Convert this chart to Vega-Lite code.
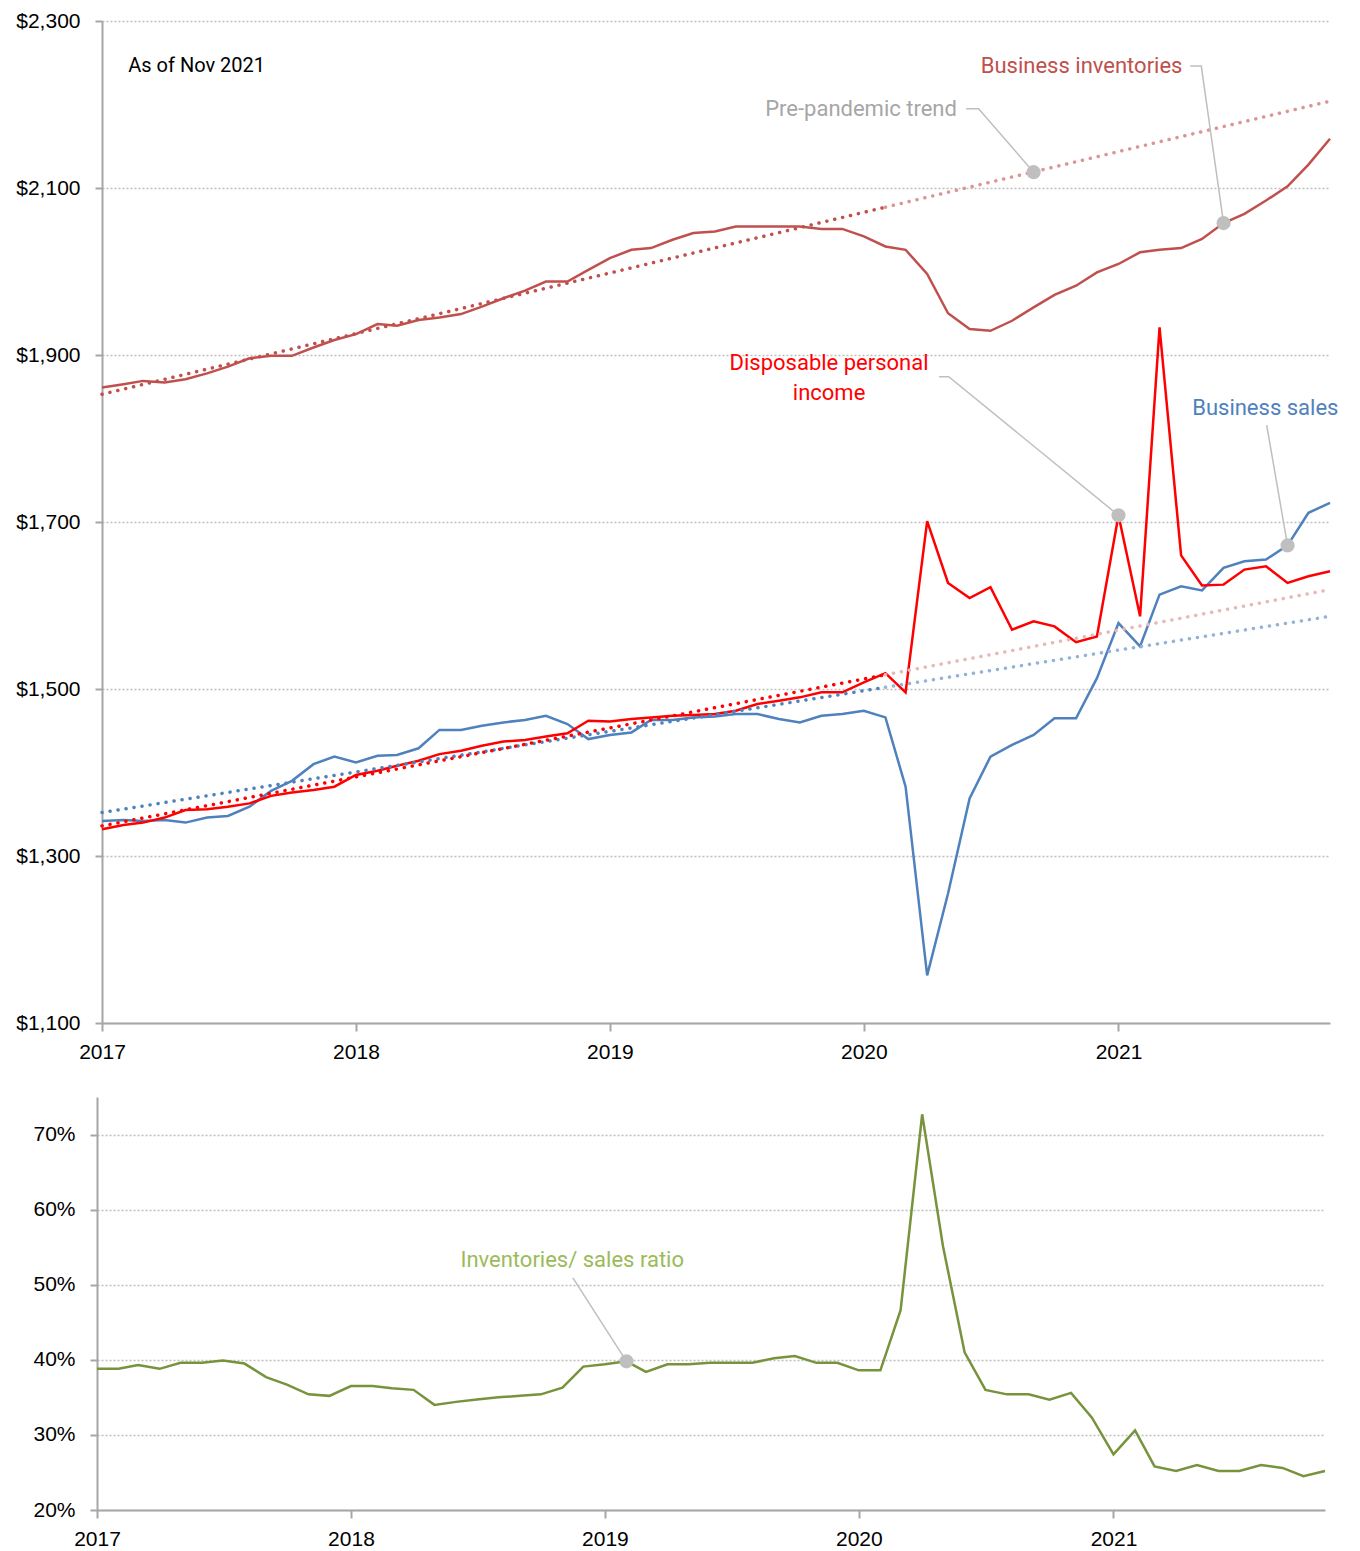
{
  "$schema": "https://vega.github.io/schema/vega-lite/v6.json",
  "background": "white",
  "padding": {"left": 14, "top": 10, "right": 18, "bottom": 5},
  "spacing": 35,
  "columns": 1,
  "align": "none",
  "config": {
    "view": {"stroke": null},
    "axis": {
      "labelFont": "Liberation Sans", "labelFontSize": 21, "labelColor": "#000000",
      "domainColor": "#A6A6A6", "domainWidth": 2, "tickColor": "#A6A6A6", "tickWidth": 2,
      "gridColor": "#BFBFBF", "gridDash": [2, 2], "gridWidth": 1.5, "title": null
    }
  },
  "datasets": {
    "main": [
      {"d":"2017-01-01","inv":1861,"sales":1342,"inc":1332,"ratio":0.388},
      {"d":"2017-02-01","inv":1865,"sales":1343,"inc":1337,"ratio":0.388},
      {"d":"2017-03-01","inv":1869,"sales":1342,"inc":1340,"ratio":0.393},
      {"d":"2017-04-01","inv":1867,"sales":1343,"inc":1346,"ratio":0.388},
      {"d":"2017-05-01","inv":1871,"sales":1340,"inc":1355,"ratio":0.396},
      {"d":"2017-06-01","inv":1878,"sales":1346,"inc":1356,"ratio":0.396},
      {"d":"2017-07-01","inv":1886,"sales":1348,"inc":1359,"ratio":0.399},
      {"d":"2017-08-01","inv":1896,"sales":1359,"inc":1363,"ratio":0.395},
      {"d":"2017-09-01","inv":1899,"sales":1378,"inc":1372,"ratio":0.377},
      {"d":"2017-10-01","inv":1899,"sales":1390,"inc":1376,"ratio":0.367},
      {"d":"2017-11-01","inv":1909,"sales":1410,"inc":1379,"ratio":0.354},
      {"d":"2017-12-01","inv":1918,"sales":1419,"inc":1383,"ratio":0.352},
      {"d":"2018-01-01","inv":1925,"sales":1412,"inc":1397,"ratio":0.365},
      {"d":"2018-02-01","inv":1937,"sales":1420,"inc":1402,"ratio":0.365},
      {"d":"2018-03-01","inv":1935,"sales":1421,"inc":1408,"ratio":0.362},
      {"d":"2018-04-01","inv":1942,"sales":1429,"inc":1414,"ratio":0.360},
      {"d":"2018-05-01","inv":1945,"sales":1451,"inc":1422,"ratio":0.340},
      {"d":"2018-06-01","inv":1949,"sales":1451,"inc":1426,"ratio":0.344},
      {"d":"2018-07-01","inv":1958,"sales":1456,"inc":1432,"ratio":0.347},
      {"d":"2018-08-01","inv":1968,"sales":1460,"inc":1437,"ratio":0.350},
      {"d":"2018-09-01","inv":1977,"sales":1463,"inc":1439,"ratio":0.352},
      {"d":"2018-10-01","inv":1988,"sales":1468,"inc":1443,"ratio":0.354},
      {"d":"2018-11-01","inv":1988,"sales":1458,"inc":1447,"ratio":0.363},
      {"d":"2018-12-01","inv":2002,"sales":1440,"inc":1462,"ratio":0.391},
      {"d":"2019-01-01","inv":2016,"sales":1445,"inc":1461,"ratio":0.394},
      {"d":"2019-02-01","inv":2026,"sales":1448,"inc":1464,"ratio":0.398},
      {"d":"2019-03-01","inv":2028,"sales":1463,"inc":1466,"ratio":0.384},
      {"d":"2019-04-01","inv":2038,"sales":1463,"inc":1468,"ratio":0.394},
      {"d":"2019-05-01","inv":2046,"sales":1466,"inc":1469,"ratio":0.394},
      {"d":"2019-06-01","inv":2048,"sales":1467,"inc":1470,"ratio":0.396},
      {"d":"2019-07-01","inv":2054,"sales":1470,"inc":1474,"ratio":0.396},
      {"d":"2019-08-01","inv":2054,"sales":1470,"inc":1482,"ratio":0.396},
      {"d":"2019-09-01","inv":2054,"sales":1464,"inc":1486,"ratio":0.402},
      {"d":"2019-10-01","inv":2054,"sales":1460,"inc":1490,"ratio":0.405},
      {"d":"2019-11-01","inv":2051,"sales":1468,"inc":1496,"ratio":0.396},
      {"d":"2019-12-01","inv":2051,"sales":1470,"inc":1496,"ratio":0.396},
      {"d":"2020-01-01","inv":2042,"sales":1474,"inc":1508,"ratio":0.386},
      {"d":"2020-02-01","inv":2030,"sales":1466,"inc":1519,"ratio":0.386},
      {"d":"2020-03-01","inv":2026,"sales":1383,"inc":1496,"ratio":0.466},
      {"d":"2020-04-01","inv":1997,"sales":1157,"inc":1701,"ratio":0.727},
      {"d":"2020-05-01","inv":1950,"sales":1255,"inc":1627,"ratio":0.551},
      {"d":"2020-06-01","inv":1931,"sales":1369,"inc":1609,"ratio":0.410},
      {"d":"2020-07-01","inv":1929,"sales":1419,"inc":1622,"ratio":0.360},
      {"d":"2020-08-01","inv":1941,"sales":1433,"inc":1571,"ratio":0.354},
      {"d":"2020-09-01","inv":1957,"sales":1445,"inc":1581,"ratio":0.354},
      {"d":"2020-10-01","inv":1972,"sales":1465,"inc":1575,"ratio":0.347},
      {"d":"2020-11-01","inv":1983,"sales":1465,"inc":1556,"ratio":0.356},
      {"d":"2020-12-01","inv":1999,"sales":1513,"inc":1563,"ratio":0.323},
      {"d":"2021-01-01","inv":2009,"sales":1579,"inc":1708,"ratio":0.274},
      {"d":"2021-02-01","inv":2023,"sales":1551,"inc":1587,"ratio":0.306},
      {"d":"2021-03-01","inv":2026,"sales":1613,"inc":1933,"ratio":0.258},
      {"d":"2021-04-01","inv":2028,"sales":1623,"inc":1660,"ratio":0.252},
      {"d":"2021-05-01","inv":2039,"sales":1618,"inc":1624,"ratio":0.260},
      {"d":"2021-06-01","inv":2058,"sales":1645,"inc":1625,"ratio":0.252},
      {"d":"2021-07-01","inv":2069,"sales":1653,"inc":1643,"ratio":0.252},
      {"d":"2021-08-01","inv":2085,"sales":1655,"inc":1647,"ratio":0.260},
      {"d":"2021-09-01","inv":2102,"sales":1672,"inc":1627,"ratio":0.256},
      {"d":"2021-10-01","inv":2128,"sales":1711,"inc":1635,"ratio":0.245},
      {"d":"2021-11-01","inv":2159,"sales":1723,"inc":1641,"ratio":0.252}
    ],
    "trend": [
      {"d":"2017-01-01","k":"inv-fit","v":1853},{"d":"2020-02-01","k":"inv-fit","v":2077},
      {"d":"2020-02-01","k":"inv-proj","v":2077},{"d":"2021-11-01","k":"inv-proj","v":2204},
      {"d":"2017-01-01","k":"sales-fit","v":1352},{"d":"2020-02-01","k":"sales-fit","v":1502},
      {"d":"2020-02-01","k":"sales-proj","v":1502},{"d":"2021-11-01","k":"sales-proj","v":1587},
      {"d":"2017-01-01","k":"inc-fit","v":1336},{"d":"2020-02-01","k":"inc-fit","v":1517},
      {"d":"2020-02-01","k":"inc-proj","v":1517},{"d":"2021-11-01","k":"inc-proj","v":1619}
    ],
    "leaders": [
      {"g":"pp","o":1,"d":"2020-05-27","v":2195},
      {"g":"pp","o":2,"d":"2020-06-14","v":2195},
      {"g":"pp","o":3,"d":"2020-09-01","v":2119},
      {"g":"bi","o":1,"d":"2021-04-14","v":2246},
      {"g":"bi","o":2,"d":"2021-04-30","v":2246},
      {"g":"bi","o":3,"d":"2021-06-01","v":2058},
      {"g":"dpi","o":1,"d":"2020-04-18","v":1874},
      {"g":"dpi","o":2,"d":"2020-05-02","v":1874},
      {"g":"dpi","o":3,"d":"2021-01-01","v":1708},
      {"g":"bs","o":1,"d":"2021-08-02","v":1816},
      {"g":"bs","o":2,"d":"2021-09-01","v":1672}
    ],
    "dots": [
      {"d":"2020-09-01","v":2119},{"d":"2021-06-01","v":2058},
      {"d":"2021-01-01","v":1708},{"d":"2021-09-01","v":1672}
    ],
    "labels": [
      {"t":"Pre-pandemic trend","d":"2019-12-28","v":2195,"k":"trend"},
      {"t":"Business inventories","d":"2020-11-09","v":2246,"k":"inv"},
      {"t":"Disposable personal","d":"2019-11-12","v":1890,"k":"inc"},
      {"t":"income","d":"2019-11-12","v":1854,"k":"inc"},
      {"t":"Business sales","d":"2021-07-31","v":1836,"k":"sales"}
    ],
    "note": [{"t":"As of Nov 2021","d":"2017-05-17","v":2246}],
    "ratioLeader": [
      {"o":1,"d":"2018-11-16","v":0.509},{"o":2,"d":"2019-02-01","v":0.398}
    ],
    "ratioDot": [{"d":"2019-02-01","v":0.398}],
    "ratioLabel": [{"t":"Inventories/ sales ratio","d":"2018-11-15","v":0.533}]
  },
  "concat": [
    {
      "width": 1228,
      "height": 1002,
      "encoding": {
        "x": {
          "field": "d", "type": "temporal",
          "scale": {"type": "utc", "domain": [{"year":2017,"month":1,"date":1,"utc":true},{"year":2021,"month":11,"date":1,"utc":true}]},
          "axis": {
            "values": [{"year":2017,"month":1,"date":1,"utc":true},{"year":2018,"month":1,"date":1,"utc":true},{"year":2019,"month":1,"date":1,"utc":true},{"year":2020,"month":1,"date":1,"utc":true},{"year":2021,"month":1,"date":1,"utc":true}],
            "format": "%Y", "grid": false, "tickSize": 8, "labelPadding": 10, "labelFlush": false
          }
        },
        "y": {
          "field": "v", "type": "quantitative",
          "scale": {"domain": [1100, 2300], "nice": false, "zero": false},
          "axis": {"values": [1100,1300,1500,1700,1900,2100,2300], "format": "$,.0f", "grid": true, "tickSize": 7, "labelPadding": 15, "minExtent": 88}
        }
      },
      "layer": [
        {
          "data": {"name": "main"},
          "transform": [{"fold": ["inv", "sales", "inc"], "as": ["k", "v"]}],
          "mark": {"type": "line", "strokeWidth": 2.5},
          "encoding": {
            "color": {"field": "k", "type": "nominal", "legend": null,
              "scale": {"domain": ["inv","sales","inc","inv-fit","inv-proj","sales-fit","sales-proj","inc-fit","inc-proj","note","trend"],
                        "range": ["#C0504D","#4F81BD","#FF0000","#C0504D","#DA9694","#4F81BD","#95B3D7","#FF0000","#E6B9B8","#000000","#A6A6A6"]}}
          }
        },
        {
          "data": {"name": "trend"},
          "mark": {"type": "line", "strokeWidth": 3.5, "strokeDash": [0.1, 8], "strokeCap": "round"},
          "encoding": {
            "color": {"field": "k", "type": "nominal", "legend": null,
              "scale": {"domain": ["inv","sales","inc","inv-fit","inv-proj","sales-fit","sales-proj","inc-fit","inc-proj","note","trend"],
                        "range": ["#C0504D","#4F81BD","#FF0000","#C0504D","#DA9694","#4F81BD","#95B3D7","#FF0000","#E6B9B8","#000000","#A6A6A6"]}}
          }
        },
        {
          "data": {"name": "leaders"},
          "mark": {"type": "line", "color": "#BFBFBF", "strokeWidth": 1.5},
          "encoding": {"detail": {"field": "g"}, "order": {"field": "o", "type": "quantitative"}}
        },
        {
          "data": {"name": "dots"},
          "mark": {"type": "circle", "size": 200, "color": "#BFBFBF", "opacity": 1},
          "encoding": {}
        },
        {
          "data": {"name": "labels"},
          "mark": {"type": "text", "font": "Roboto", "fontSize": 22, "align": "center", "baseline": "middle"},
          "encoding": {
            "text": {"field": "t"},
            "color": {"field": "k", "type": "nominal", "legend": null,
              "scale": {"domain": ["inv","sales","inc","inv-fit","inv-proj","sales-fit","sales-proj","inc-fit","inc-proj","note","trend"],
                        "range": ["#C0504D","#4F81BD","#FF0000","#C0504D","#DA9694","#4F81BD","#95B3D7","#FF0000","#E6B9B8","#000000","#A6A6A6"]}}
          }
        },
        {
          "data": {"name": "note"},
          "mark": {"type": "text", "font": "Roboto", "fontSize": 20, "align": "center", "baseline": "middle", "color": "#000000", "letterSpacing": -0.5},
          "encoding": {"text": {"field": "t"}}
        }
      ]
    },
    {
      "width": 1228,
      "height": 413,
      "encoding": {
        "x": {
          "field": "d", "type": "temporal",
          "scale": {"type": "utc", "range": [-5, 1223], "domain": [{"year":2017,"month":1,"date":1,"utc":true},{"year":2021,"month":11,"date":1,"utc":true}]},
          "axis": {
            "values": [{"year":2017,"month":1,"date":1,"utc":true},{"year":2018,"month":1,"date":1,"utc":true},{"year":2019,"month":1,"date":1,"utc":true},{"year":2020,"month":1,"date":1,"utc":true},{"year":2021,"month":1,"date":1,"utc":true}],
            "format": "%Y", "grid": false, "tickSize": 8, "labelPadding": 10, "labelFlush": false
          }
        },
        "y": {
          "field": "v", "type": "quantitative",
          "scale": {"domain": [0.2, 0.75], "nice": false, "zero": false},
          "axis": {"values": [0.2,0.3,0.4,0.5,0.6,0.7], "format": ".0%", "grid": true, "tickSize": 7, "labelPadding": 15, "minExtent": 83, "offset": 5}
        }
      },
      "layer": [
        {
          "data": {"name": "main"},
          "mark": {"type": "line", "color": "#77933C", "strokeWidth": 2.5},
          "encoding": {"y": {"field": "ratio", "type": "quantitative"}}
        },
        {
          "data": {"name": "ratioLeader"},
          "mark": {"type": "line", "color": "#BFBFBF", "strokeWidth": 1.5},
          "encoding": {"order": {"field": "o", "type": "quantitative"}}
        },
        {
          "data": {"name": "ratioDot"},
          "mark": {"type": "circle", "size": 200, "color": "#BFBFBF", "opacity": 1},
          "encoding": {}
        },
        {
          "data": {"name": "ratioLabel"},
          "mark": {"type": "text", "font": "Roboto", "fontSize": 22, "align": "center", "baseline": "middle", "color": "#9BBB59"},
          "encoding": {"text": {"field": "t"}}
        }
      ]
    }
  ]
}
